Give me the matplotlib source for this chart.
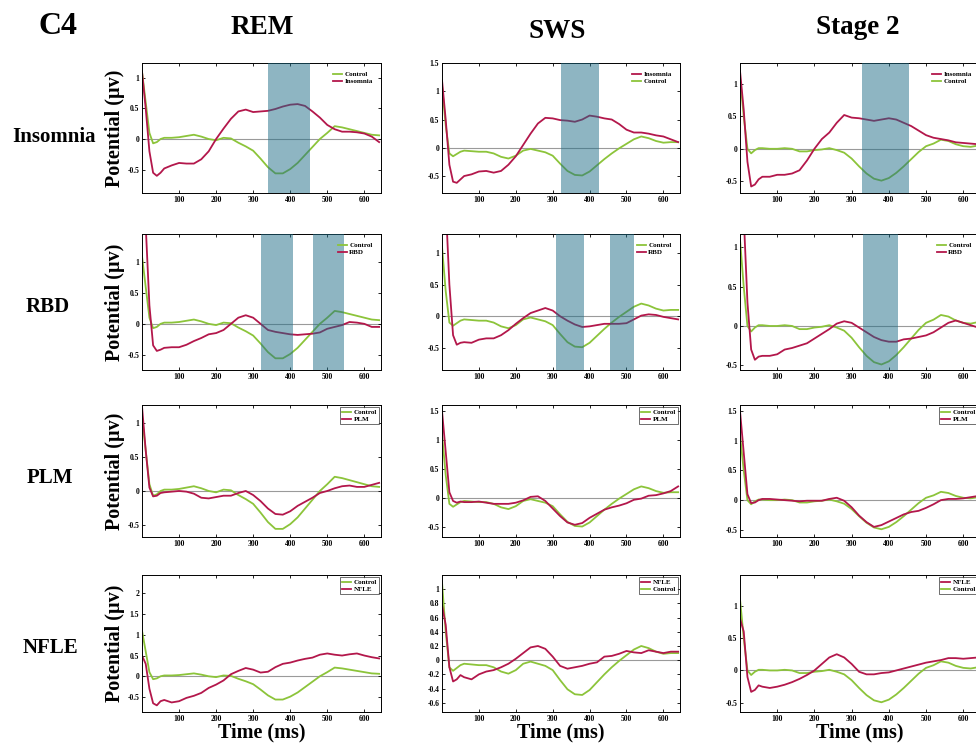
import matplotlib
matplotlib.use("Agg")
import matplotlib.pyplot as plt

plt.rcParams['font.family'] = ['Liberation Serif', 'DejaVu Serif']
plt.rcParams['font.weight'] = 'bold'

# ---------------- data ----------------
time_ms = [0, 10, 20, 30, 40, 50, 60, 80, 100, 120, 140, 160, 180, 200, 220, 240, 260, 280,
           300, 320, 340, 360, 380, 400, 420, 440, 460, 480, 500, 520, 540, 560, 580, 600, 620, 640]

stages = ["REM", "SWS", "Stage 2"]
groups = ["Insomnia", "RBD", "PLM", "NFLE"]

control_rem = [1.1, 0.6, 0.1, -0.07, -0.05, 0.0, 0.02, 0.02, 0.03, 0.05, 0.07, 0.04, 0.0, -0.02, 0.02, 0.01,
               -0.06, -0.12, -0.19, -0.32, -0.46, -0.56, -0.56, -0.49, -0.39, -0.26, -0.13, 0.0, 0.1, 0.21,
               0.19, 0.16, 0.13, 0.1, 0.07, 0.06]
control_sws = [1.1, 0.4, -0.1, -0.15, -0.11, -0.07, -0.05, -0.06, -0.07, -0.07, -0.1, -0.16, -0.19, -0.14,
               -0.05, -0.02, -0.05, -0.08, -0.14, -0.28, -0.41, -0.48, -0.49, -0.42, -0.31, -0.2, -0.1, -0.01,
               0.07, 0.15, 0.2, 0.17, 0.12, 0.09, 0.1, 0.1]
control_s2 = [1.1, 0.5, 0.0, -0.07, -0.02, 0.01, 0.01, 0.0, 0.0, 0.01, 0.0, -0.04, -0.04, -0.02, -0.01, 0.01,
              -0.02, -0.06, -0.15, -0.27, -0.38, -0.46, -0.49, -0.45, -0.37, -0.27, -0.16, -0.05, 0.04, 0.08,
              0.14, 0.12, 0.07, 0.04, 0.03, 0.05]

insomnia_rem = [1.1, 0.5, -0.2, -0.55, -0.6, -0.55, -0.48, -0.43, -0.39, -0.4, -0.4, -0.33, -0.2, 0.0, 0.17,
                0.33, 0.45, 0.48, 0.44, 0.45, 0.46, 0.49, 0.53, 0.56, 0.57, 0.54, 0.45, 0.35, 0.23, 0.16, 0.12,
                0.12, 0.11, 0.09, 0.04, -0.05]
insomnia_sws = [1.2, 0.5, -0.3, -0.6, -0.62, -0.56, -0.5, -0.47, -0.42, -0.41, -0.44, -0.41, -0.3, -0.15, 0.05,
                0.25, 0.43, 0.53, 0.52, 0.49, 0.48, 0.46, 0.5, 0.57, 0.55, 0.52, 0.5, 0.42, 0.32, 0.27, 0.27,
                0.25, 0.22, 0.2, 0.15, 0.1]
insomnia_s2 = [1.2, 0.6, -0.2, -0.58, -0.55, -0.47, -0.43, -0.43, -0.4, -0.4, -0.38, -0.33, -0.18, 0.0, 0.15,
               0.25, 0.4, 0.52, 0.48, 0.47, 0.45, 0.43, 0.45, 0.47, 0.45, 0.4, 0.35, 0.28, 0.21, 0.17, 0.15,
               0.13, 0.1, 0.09, 0.08, 0.07]

rbd_rem = [2.4, 1.6, 0.3, -0.35, -0.44, -0.42, -0.39, -0.38, -0.38, -0.34, -0.28, -0.23, -0.17, -0.15, -0.1,
           0.0, 0.1, 0.14, 0.1, 0.0, -0.1, -0.13, -0.15, -0.17, -0.18, -0.17, -0.16, -0.14, -0.08, -0.05,
           -0.02, 0.03, 0.02, 0.0, -0.05, -0.05]
rbd_sws = [2.4, 1.8, 0.5, -0.3, -0.45, -0.42, -0.41, -0.42, -0.37, -0.35, -0.35, -0.3, -0.22, -0.12, -0.03,
           0.05, 0.09, 0.13, 0.09, 0.0, -0.07, -0.13, -0.17, -0.16, -0.14, -0.12, -0.12, -0.12, -0.11, -0.05,
           0.01, 0.03, 0.02, -0.01, -0.03, -0.05]
rbd_s2 = [2.4, 1.4, 0.3, -0.3, -0.43, -0.39, -0.38, -0.38, -0.36, -0.3, -0.28, -0.25, -0.22, -0.16, -0.1,
          -0.04, 0.03, 0.06, 0.04, -0.02, -0.08, -0.14, -0.18, -0.2, -0.2, -0.17, -0.16, -0.14, -0.12, -0.08,
          -0.02, 0.04, 0.07, 0.04, 0.01, -0.02]

plm_rem = [1.25, 0.6, 0.05, -0.08, -0.07, -0.03, -0.02, -0.01, 0.0, -0.01, -0.04, -0.1, -0.11, -0.09, -0.07,
           -0.07, -0.03, 0.0, -0.06, -0.15, -0.26, -0.34, -0.35, -0.3, -0.22, -0.16, -0.1, -0.03, 0.0, 0.04,
           0.07, 0.08, 0.06, 0.06, 0.09, 0.12]
plm_sws = [1.5, 0.8, 0.1, -0.05, -0.08, -0.06, -0.07, -0.07, -0.06, -0.08, -0.1, -0.1, -0.1, -0.08, -0.04,
           0.02, 0.03, -0.05, -0.18, -0.31, -0.42, -0.46, -0.43, -0.34, -0.27, -0.2, -0.16, -0.13, -0.09,
           -0.03, -0.01, 0.04, 0.05, 0.08, 0.12, 0.2]
plm_s2 = [1.5, 0.8, 0.1, -0.05, -0.04, 0.0, 0.02, 0.02, 0.01, 0.0, -0.01, -0.02, -0.01, -0.01, -0.01, 0.02,
          0.04, -0.01, -0.12, -0.26, -0.37, -0.45, -0.42, -0.36, -0.3, -0.24, -0.2, -0.18, -0.13, -0.07, 0.0,
          0.02, 0.02, 0.03, 0.05, 0.07]

nfle_rem = [0.5, 0.3, -0.3, -0.65, -0.7, -0.6, -0.57, -0.63, -0.6, -0.52, -0.47, -0.4, -0.28, -0.2, -0.1,
            0.05, 0.13, 0.2, 0.16, 0.09, 0.11, 0.22, 0.3, 0.33, 0.38, 0.42, 0.45, 0.52, 0.55, 0.52, 0.5, 0.53,
            0.55, 0.5, 0.46, 0.43]
nfle_sws = [0.78, 0.5, -0.1, -0.3, -0.27, -0.21, -0.24, -0.27, -0.2, -0.16, -0.14, -0.1, -0.05, 0.02, 0.1,
            0.18, 0.2, 0.16, 0.05, -0.08, -0.12, -0.1, -0.08, -0.05, -0.03, 0.05, 0.06, 0.09, 0.13, 0.11, 0.1,
            0.14, 0.12, 0.1, 0.12, 0.12]
nfle_s2 = [0.8, 0.6, -0.1, -0.33, -0.3, -0.23, -0.25, -0.27, -0.25, -0.22, -0.18, -0.13, -0.07, 0.0, 0.1,
           0.2, 0.25, 0.2, 0.1, -0.02, -0.06, -0.06, -0.04, -0.03, 0.0, 0.03, 0.06, 0.09, 0.12, 0.14, 0.16,
           0.19, 0.19, 0.18, 0.19, 0.2]

controls = [control_rem, control_sws, control_s2]
patients = [
    [insomnia_rem, insomnia_sws, insomnia_s2],
    [rbd_rem, rbd_sws, rbd_s2],
    [plm_rem, plm_sws, plm_s2],
    [nfle_rem, nfle_sws, nfle_s2],
]

# significant windows (ms)
shades = [
    [[(340, 454)], [(323, 426)], [(327, 455)]],
    [[(322, 407), (462, 546)], [(308, 384), (456, 519)], [(330, 425)]],
    [[], [], []],
    [[], [], []],
]

ylims = [
    [(-0.88, 1.24), (-0.8, 1.5), (-0.68, 1.32)],
    [(-0.75, 1.46), (-0.85, 1.3), (-0.56, 1.17)],
    [(-0.68, 1.27), (-0.67, 1.6), (-0.62, 1.6)],
    [(-0.86, 2.44), (-0.73, 1.2), (-0.64, 1.47)],
]
yticks_std = [-0.5, 0, 0.5, 1, 1.5, 2]
ytick_labels_std = ["-0.5", "0", "0.5", "1", "1.5", "2"]
yticks_fine = [-0.6, -0.4, -0.2, 0, 0.2, 0.4, 0.6, 0.8, 1]
ytick_labels_fine = ["-0.6", "-0.4", "-0.2", "0", "0.2", "0.4", "0.6", "0.8", "1"]
xticks = [100, 200, 300, 400, 500, 600]
xtick_labels = ["100", "200", "300", "400", "500", "600"]

# patient curve first in legend?
patient_first = [
    [False, True, True],
    [False, False, False],
    [False, False, False],
    [False, True, True],
]

GREEN = "#8cc43a"
RED = "#b3174b"
SHADE = "#1f6d87"

W, H = 976, 744
fig = plt.figure(figsize=(W / 100, H / 100), dpi=100)

col_x = [(142, 381), (442, 680), (740, 980)]
row_y = [(63, 193), (234, 370), (405, 537), (575, 712)]

for r in range(4):
    for c in range(3):
        x0, x1 = col_x[c]
        y0, y1 = row_y[r]
        ax = fig.add_axes([x0 / W, 1 - y1 / H, (x1 - x0) / W, (y1 - y0) / H])
        ax.axhline(0, color="#9a9a9a", lw=0.8, zorder=1)
        lc, = ax.plot(time_ms, controls[c], color=GREEN, lw=1.3, zorder=2, label="Control")
        lp, = ax.plot(time_ms, patients[r][c], color=RED, lw=1.3, zorder=2, label=groups[r])
        for (a, b) in shades[r][c]:
            ax.axvspan(a, b, color=SHADE, alpha=0.5, lw=0, zorder=3)
        ax.set_xticks(xticks)
        ax.set_xticklabels(xtick_labels)
        lo, hi = ylims[r][c]
        if r == 3 and c == 1:
            tk, tl = yticks_fine, ytick_labels_fine
        else:
            tk, tl = yticks_std, ytick_labels_std
        keep = [(t, l) for t, l in zip(tk, tl) if lo <= t <= hi]
        ax.set_yticks([t for t, _ in keep])
        ax.set_yticklabels([l for _, l in keep])
        ax.set_xlim(0, 645)
        ax.set_ylim(lo, hi)
        ax.tick_params(direction="in", length=2, width=0.6, top=True, right=True,
                       labelsize=5.5, pad=2)
        for lab in ax.get_xticklabels() + ax.get_yticklabels():
            lab.set_fontweight("bold")
        for sp in ax.spines.values():
            sp.set_linewidth(0.7)
        handles = [lp, lc] if patient_first[r][c] else [lc, lp]
        framed = r >= 2
        leg = ax.legend(handles=handles, labels=[h.get_label() for h in handles],
                        loc="upper right", fontsize=5, frameon=framed, handlelength=1.3,
                        handletextpad=0.3, borderpad=0.3, labelspacing=0.15,
                        borderaxespad=0.3 if framed else 0.9, fancybox=False)
        if framed:
            leg.get_frame().set_edgecolor("black")
            leg.get_frame().set_linewidth(0.5)
        for t in leg.get_texts():
            t.set_fontweight("bold")
        if c == 0:
            ax.set_ylabel("Potential (\u00b5v)", fontsize=14.5, fontweight="bold", labelpad=2)
        if r == 3:
            ax.set_xlabel("Time (ms)", fontsize=14.5, fontweight="bold", labelpad=0)

fig.text(58 / W, 1 - 27 / H, "C4", fontsize=23, fontweight="bold", ha="center", va="center")
title_pos = [(262, 27), (557, 31), (858, 27)]
for name, (x, y) in zip(stages, title_pos):
    fig.text(x / W, 1 - y / H, name, fontsize=19.5, fontweight="bold", ha="center", va="center")
row_label_pos = [(54, 137), (48, 307), (50, 478), (50, 648)]
for name, (x, y) in zip(groups, row_label_pos):
    fig.text(x / W, 1 - y / H, name, fontsize=15, fontweight="bold", ha="center", va="center")

fig.savefig("out.png", dpi=100)
